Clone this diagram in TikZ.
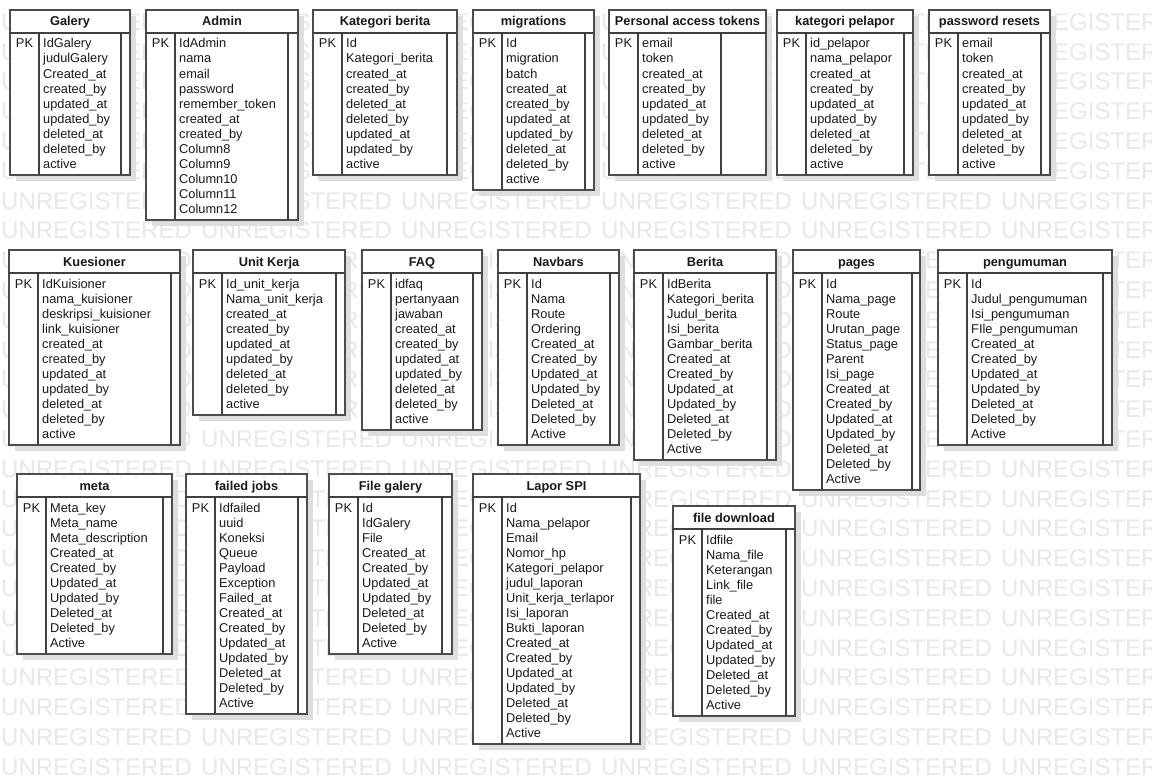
\documentclass[tikz,border=0pt]{standalone}
\usepackage{fontspec}
\setmainfont{Liberation Sans}

% #1 name, #2 left, #3 top, #4 inner line, #5 right, #6 bottom, #7 title, #8 fields
\newcommand{\erdbox}[8]{%
 \fill[boxshadow] (#2+6,#3+6) rectangle (#5+6,#6+6);
 \filldraw[boxframe] (#2,#3) rectangle (#5,#6);
 \draw[boxrule] (#2,#3+23) -- (#5,#3+23);
 \draw[boxrule] (#2+29,#3+23) -- (#2+29,#6);
 \draw[boxrule] (#4,#3+23) -- (#4,#6);
 \node[boxtitle] (#1) at ({(#2+#5)/2},#3+16) {#7};
 \node[boxfield, anchor=base] (#1-pk) at (#2+14.5,#3+38) {PK};
 \foreach \f [count=\i from 0] in {#8}
   \node[boxfield] (#1-\i) at (#2+33,#3+38+15*\i) {\f};
}

\begin{document}
\begin{tikzpicture}[x=1pt, y=-1pt,
  boxshadow/.style={fill=black!13},
  boxframe/.style={fill=white, draw=black!70, line width=1.6pt},
  boxrule/.style={draw=black!75, line width=1.2pt},
  boxtitle/.style={inner sep=0, anchor=base, text=black!90, font=\fontsize{12.8}{15}\selectfont\bfseries},
  boxfield/.style={inner sep=0, anchor=base west, text=black!90, font=\fontsize{12.8}{15}\selectfont},
  wmtext/.style={inner sep=0, anchor=west, text=black!9, font=\fontsize{24}{24}\selectfont}]
\useasboundingbox (0,0) rectangle (1152,784);
\fill[white] (0,0) rectangle (1152,784);
% watermark
\foreach \j in {0,...,25}
  \foreach \k in {0,...,5}
    \node[wmtext] (wm-\j-\k) at (1+200*\k,22+29.8*\j) {UNREGISTERED};
% first row
\erdbox{galery}{10}{10}{121}{130}{175}{Galery}{IdGalery,judulGalery,Created\_at,created\_by,updated\_at,updated\_by,deleted\_at,deleted\_by,active}
\erdbox{admin}{146}{10}{288}{298}{220}{Admin}{IdAdmin,nama,email,password,remember\_token,created\_at,created\_by,Column8,Column9,Column10,Column11,Column12}
\erdbox{katberita}{313}{10}{447}{457}{175}{Kategori berita}{Id,Kategori\_berita,created\_at,created\_by,deleted\_at,deleted\_by,updated\_at,updated\_by,active}
\erdbox{migrations}{473}{10}{585}{594}{190}{migrations}{Id,migration,batch,created\_at,created\_by,updated\_at,updated\_by,deleted\_at,deleted\_by,active}
\erdbox{tokens}{609}{10}{721}{766}{175}{Personal access tokens}{email,token,created\_at,created\_by,updated\_at,updated\_by,deleted\_at,deleted\_by,active}
\erdbox{katpelapor}{777}{10}{904}{913}{175}{kategori pelapor}{id\_pelapor,nama\_pelapor,created\_at,created\_by,updated\_at,updated\_by,deleted\_at,deleted\_by,active}
\erdbox{resets}{929}{10}{1041}{1050}{175}{password resets}{email,token,created\_at,created\_by,updated\_at,updated\_by,deleted\_at,deleted\_by,active}
% second row
\erdbox{kuesioner}{9}{250}{171}{180}{445}{Kuesioner}{IdKuisioner,nama\_kuisioner,deskripsi\_kuisioner,link\_kuisioner,created\_at,created\_by,updated\_at,updated\_by,deleted\_at,deleted\_by,active}
\erdbox{unitkerja}{193}{250}{336}{345}{415}{Unit Kerja}{Id\_unit\_kerja,Nama\_unit\_kerja,created\_at,created\_by,updated\_at,updated\_by,deleted\_at,deleted\_by,active}
\erdbox{faq}{362}{250}{473}{482}{430}{FAQ}{idfaq,pertanyaan,jawaban,created\_at,created\_by,updated\_at,updated\_by,deleted\_at,deleted\_by,active}
\erdbox{navbars}{498}{250}{610}{619}{445}{Navbars}{Id,Nama,Route,Ordering,Created\_at,Created\_by,Updated\_at,Updated\_by,Deleted\_at,Deleted\_by,Active}
\erdbox{berita}{634}{250}{767}{776}{460}{Berita}{IdBerita,Kategori\_berita,Judul\_berita,Isi\_berita,Gambar\_berita,Created\_at,Created\_by,Updated\_at,Updated\_by,Deleted\_at,Deleted\_by,Active}
\erdbox{pages}{793}{250}{912}{920}{490}{pages}{Id,Nama\_page,Route,Urutan\_page,Status\_page,Parent,Isi\_page,Created\_at,Created\_by,Updated\_at,Updated\_by,Deleted\_at,Deleted\_by,Active}
\erdbox{pengumuman}{938}{250}{1103}{1112}{445}{pengumuman}{Id,Judul\_pengumuman,Isi\_pengumuman,FIle\_pengumuman,Created\_at,Created\_by,Updated\_at,Updated\_by,Deleted\_at,Deleted\_by,Active}
% third row
\erdbox{meta}{17}{474}{163}{172}{654}{meta}{Meta\_key,Meta\_name,Meta\_description,Created\_at,Created\_by,Updated\_at,Updated\_by,Deleted\_at,Deleted\_by,Active}
\erdbox{failed}{186}{474}{298}{307}{714}{failed jobs}{Idfailed,uuid,Koneksi,Queue,Payload,Exception,Failed\_at,Created\_at,Created\_by,Updated\_at,Updated\_by,Deleted\_at,Deleted\_by,Active}
\erdbox{filegalery}{329}{474}{442}{452}{654}{File galery}{Id,IdGalery,File,Created\_at,Created\_by,Updated\_at,Updated\_by,Deleted\_at,Deleted\_by,Active}
\erdbox{lapor}{473}{474}{631}{640}{744}{Lapor SPI}{Id,Nama\_pelapor,Email,Nomor\_hp,Kategori\_pelapor,judul\_laporan,Unit\_kerja\_terlapor,Isi\_laporan,Bukti\_laporan,Created\_at,Created\_by,Updated\_at,Updated\_by,Deleted\_at,Deleted\_by,Active}
\erdbox{download}{673}{506}{786}{795}{716}{file download}{Idfile,Nama\_file,Keterangan,Link\_file,file,Created\_at,Created\_by,Updated\_at,Updated\_by,Deleted\_at,Deleted\_by,Active}
\end{tikzpicture}
\end{document}
